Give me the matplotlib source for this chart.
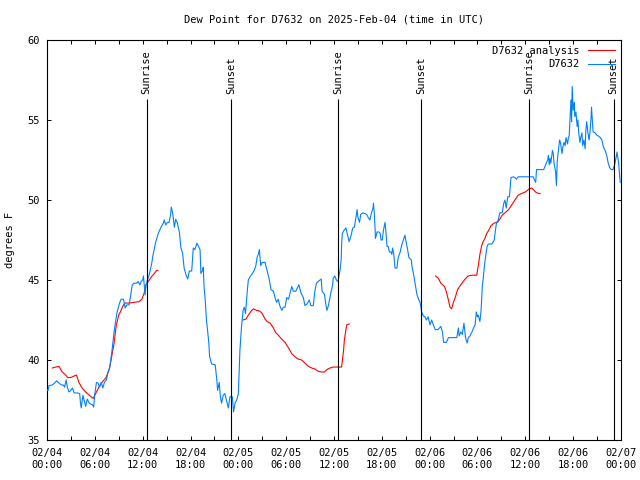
import numpy as np
import matplotlib
matplotlib.use("Agg")
import matplotlib.pyplot as plt
from matplotlib.ticker import MultipleLocator

plt.rcParams['font.family'] = ['DejaVu Sans Mono']
FONT_SIZE = 7.5

TITLE = "Dew Point for D7632 on 2025-Feb-04 (time in UTC)"
Y_LABEL = "degrees F"

# hours since 02/04 00:00 UTC
tick_hours = [0, 6, 12, 18, 24, 30, 36, 42, 48, 54, 60, 66, 72]
tick_labels = ["02/04\n00:00", "02/04\n06:00", "02/04\n12:00", "02/04\n18:00",
               "02/05\n00:00", "02/05\n06:00", "02/05\n12:00", "02/05\n18:00",
               "02/06\n00:00", "02/06\n06:00", "02/06\n12:00", "02/06\n18:00",
               "02/07\n00:00"]

sunrise_hours = [12.5, 36.5, 60.5]
sunset_hours = [23.05, 46.95, 71.08]

obs_hours = [
    0.0, 0.13, 0.25, 0.67, 0.96, 1.2, 1.5, 1.8, 2.05, 2.2, 2.4, 2.55, 2.76, 2.97,
    3.2, 3.4, 3.8, 4.1, 4.2, 4.3, 4.5, 4.65, 4.85, 5.05, 5.3, 5.5, 5.7, 5.85,
    5.98, 6.2, 6.4, 6.6, 6.8, 7.0, 7.2, 7.45, 7.65, 7.85, 8.0, 8.2, 8.4, 8.6,
    8.8, 9.1, 9.3, 9.6, 9.8, 10.0, 10.3, 10.5, 10.7, 10.9, 11.25, 11.45, 11.65,
    11.8, 12.0, 12.1, 12.3, 12.4, 12.6, 12.8, 13.1, 13.3, 13.6, 13.95, 14.3,
    14.6, 14.7, 14.9, 15.1, 15.3, 15.5, 15.6, 15.8, 15.97, 16.15, 16.35, 16.6,
    16.8, 17.0, 17.2, 17.45, 17.65, 17.85, 18.15, 18.35, 18.55, 18.8, 19.0,
    19.2, 19.3, 19.5, 19.6, 19.7, 19.85, 20.0, 20.1, 20.3, 20.4, 20.65, 21.1,
    21.3, 21.4, 21.6, 21.75, 21.9, 22.1, 22.3, 22.5, 22.75, 22.95, 23.25, 23.4,
    23.58, 23.8, 24.0, 24.09, 24.2, 24.4, 24.6, 24.75, 24.9, 25.05, 25.25,
    25.46, 25.75, 26.0, 26.2, 26.35, 26.5, 26.64, 26.8, 27.0, 27.35, 27.6,
    27.85, 28.1, 28.4, 28.6, 28.8, 29.0, 29.2, 29.45, 29.65, 29.86, 30.07,
    30.3, 30.5, 30.7, 30.9, 31.2, 31.6, 31.85, 32.15, 32.36, 32.6, 32.9, 33.1,
    33.4, 33.6, 33.8, 34.0, 34.4, 34.5, 34.8, 35.0, 35.1, 35.3, 35.6, 35.8,
    35.9, 36.1, 36.3, 36.5, 36.75, 36.9, 36.96, 37.05, 37.25, 37.5, 37.7, 37.9,
    38.1, 38.35, 38.55, 38.7, 38.9, 39.0, 39.2, 39.35, 39.65, 40.1, 40.3, 40.5,
    40.7, 40.9, 40.95, 41.05, 41.15, 41.2, 41.4, 41.65, 41.8, 41.9, 42.05,
    42.2, 42.4, 42.5, 42.65, 42.8, 42.95, 43.15, 43.25, 43.35, 43.5, 43.65,
    43.9, 44.05, 44.3, 44.5, 44.7, 44.9, 45.0, 45.2, 45.4, 45.7, 45.8, 46.0,
    46.2, 46.4, 46.6, 46.8, 47.0, 47.2, 47.4, 47.6, 47.8, 48.05, 48.25, 48.45,
    48.7, 49.05, 49.4, 49.6, 49.75, 50.1, 50.35, 50.8, 51.4, 51.6, 51.7, 51.9,
    52.1, 52.3, 52.5, 52.7, 52.85, 53.05, 53.3, 53.5, 53.7, 53.85, 54.0, 54.1,
    54.3, 54.45, 54.6, 54.7, 54.85, 55.0, 55.2, 55.35, 55.8, 56.1, 56.3, 56.4,
    56.6, 56.8, 57.1, 57.3, 57.45, 57.6, 57.8, 58.0, 58.2, 58.5, 58.7, 58.9,
    59.1, 61.0, 61.1, 61.3, 61.4, 61.8, 62.3, 62.8, 62.9, 63.0, 63.1, 63.2,
    63.4, 63.5, 63.6, 63.8, 63.9, 64.0, 64.1, 64.3, 64.4, 64.6, 64.7, 64.85,
    65.0, 65.1, 65.3, 65.4, 65.5, 65.65, 65.72, 65.8, 65.88, 66.0, 66.15,
    66.2, 66.35, 66.5, 66.6, 66.7, 66.85, 66.95, 67.1, 67.2, 67.35, 67.5,
    67.6, 67.7, 67.85, 68.0, 68.1, 68.25, 68.3, 68.4, 68.5, 68.75, 68.95,
    69.15, 69.4, 69.6, 69.8, 70.0, 70.2, 70.4, 70.6, 70.8, 71.0, 71.2, 71.4,
    71.5, 71.7, 71.9,
]
obs_dewpoint = [
    38.1, 38.1, 38.4, 38.44, 38.56, 38.7, 38.56, 38.44, 38.44, 38.3, 38.75, 38.3, 38.0, 38.1,
    38.25, 37.94, 37.94, 37.9, 37.3, 37.0, 37.8, 37.5, 37.1, 37.56, 37.3, 37.25, 37.2, 37.06,
    37.8, 38.6, 38.56, 38.3, 38.6, 38.25, 38.6, 38.75, 39.25, 39.5, 40.0, 40.8, 41.7, 42.4,
    43.0, 43.56, 43.8, 43.8, 43.25, 43.44, 43.44, 44.06, 44.7, 44.8, 44.8, 44.9, 44.7,
    44.9, 45.0, 45.25, 44.06, 44.6, 45.0, 45.3, 45.94, 46.56, 47.3, 47.9, 48.3,
    48.56, 48.75, 48.44, 48.6, 48.6, 49.06, 49.56, 49.06, 48.3, 48.8, 48.56, 48.0,
    47.0, 46.7, 45.75, 45.3, 45.06, 45.56, 45.56, 47.0, 46.9, 47.3, 47.1,
    46.9, 45.4, 45.6, 45.8, 44.56, 43.75, 42.5, 42.06, 41.06, 40.2, 39.75, 39.7,
    38.75, 38.1, 38.6, 37.7, 37.3, 37.8, 37.9, 37.5, 37.0, 37.7, 37.7, 36.75,
    37.3, 37.5, 37.9, 39.2, 40.6, 42.1, 43.1, 43.3, 42.9, 43.9, 45.0,
    45.2, 45.4, 45.6, 45.9, 46.4, 46.6, 46.9, 45.9, 46.1, 46.1, 45.6,
    45.1, 44.4, 44.3, 43.9, 43.6, 43.8, 43.4, 43.1, 43.3, 43.3, 43.9,
    43.8, 44.2, 44.6, 44.3, 44.3, 44.7, 44.2, 43.9, 43.4, 43.5, 43.75, 43.4,
    43.4, 44.3, 44.8, 44.9, 45.06, 44.3, 44.1, 43.4, 43.1, 43.4, 44.2, 44.6,
    45.1, 45.25, 45.0, 44.9, 45.6, 46.25, 47.3, 47.9, 48.1, 48.25, 47.8, 47.4,
    47.7, 48.25, 48.3, 48.75, 49.4, 48.9, 48.6, 49.1, 49.2, 49.1, 48.9, 48.75,
    49.2, 49.5, 49.8, 49.2, 48.25, 47.6, 48.0, 48.0, 47.9, 47.5, 47.5,
    48.1, 48.6, 48.1, 47.1, 47.1, 46.75, 46.75, 46.6, 47.0, 46.6, 45.75,
    45.75, 46.4, 46.75, 47.2, 47.5, 47.8, 47.5, 47.0, 46.4, 46.25, 45.8, 45.3,
    44.7, 44.1, 43.8, 43.6, 43.0, 42.75, 42.7, 42.5, 42.7, 42.2, 42.5, 42.2,
    41.9, 41.9, 42.1, 41.75, 41.1, 41.1, 41.4, 41.4, 41.4, 42.0, 41.5, 41.75,
    41.6, 42.3, 41.4, 41.06, 41.4, 41.5, 41.75, 42.0, 42.2, 43.0, 42.7, 42.8,
    42.4, 43.1, 44.6, 45.0, 45.8, 46.4, 47.1, 47.25, 47.25, 47.5, 48.3, 48.6,
    48.75, 49.2, 49.2, 49.8, 50.0, 49.5, 50.2, 50.2, 51.4, 51.45, 51.4, 51.3,
    51.45, 51.45, 51.3, 51.1, 51.9, 51.9, 51.9, 52.5, 52.8, 52.2, 52.6, 52.3,
    53.1, 52.9, 52.3, 51.75, 50.9, 52.4, 52.9, 53.75, 53.6, 52.9, 53.3, 53.6,
    53.4, 53.9, 53.5, 53.9, 54.0, 55.6, 56.25, 54.9, 57.1, 55.6, 56.1,
    55.2, 55.5, 54.6, 55.0, 54.2, 53.6, 53.9, 54.2, 53.4, 53.75, 53.2,
    54.4, 54.9, 54.2, 53.75, 54.2, 55.2, 55.8, 55.0, 54.25, 54.2, 54.06,
    54.0, 53.9, 53.75, 53.3, 53.1, 52.8, 52.3, 52.0, 51.9, 51.9, 52.2, 52.7,
    53.0, 52.3, 51.1,
]

# analysis series, NaN marks the gaps between runs
analysis_hours = [
    0.67, 1.1, 1.5, 1.9, 2.35, 2.6, 2.97, 3.4, 3.7, 4.0, 4.4, 4.85, 5.3, 5.8,
    6.1, 6.5, 6.9, 7.4, 7.8, 8.0, 8.4, 8.7, 9.0, 9.2, 9.45, 9.75, 10.3, 10.9,
    11.55, 11.9, 12.2, 12.4, 12.7, 13.1, 13.45, 13.75, 13.9,
    np.nan,
    24.6, 24.96, 25.25, 25.6, 25.9, 26.3, 26.7, 27.0, 27.35, 27.6, 28.0, 28.4,
    28.7, 29.0, 29.45, 29.86, 30.3, 30.7, 31.1, 31.5, 31.95, 32.36, 32.8, 33.2,
    33.6, 34.0, 34.45, 34.8, 35.1, 35.5, 35.9, 36.4, 36.95, 37.2, 37.3, 37.5,
    37.6, 37.9,
    np.nan,
    48.75, 49.1, 49.4, 49.85, 50.1, 50.35, 50.55, 50.75, 50.95, 51.2, 51.5,
    51.9, 52.35, 52.8, 53.3, 53.9, 54.1, 54.3, 54.5, 54.7, 54.9, 55.15, 55.35,
    55.7, 56.1, 56.5, 56.8, 57.1, 57.45, 57.9, 58.3, 58.7, 59.1, 59.5, 60.0,
    60.5, 60.8, 61.1, 61.4, 61.85,
]
analysis_dewpoint = [
    39.5, 39.56, 39.6, 39.25, 39.06, 38.9, 38.9, 39.0, 39.06, 38.6, 38.25, 38.0, 37.8, 37.6,
    37.9, 38.3, 38.6, 38.9, 39.4, 39.9, 41.0, 42.2, 42.8, 43.0, 43.3, 43.56, 43.56, 43.6,
    43.65, 43.8, 44.2, 44.7, 44.9, 45.2, 45.4, 45.6, 45.6,
    np.nan,
    42.5, 42.56, 42.8, 43.06, 43.2, 43.1, 43.06, 42.9, 42.56, 42.4, 42.3, 42.0,
    41.7, 41.56, 41.3, 41.1, 40.75, 40.4, 40.2, 40.06, 40.0, 39.8, 39.6, 39.5,
    39.44, 39.3, 39.25, 39.25, 39.4, 39.5, 39.56, 39.56, 39.56, 40.6, 41.25, 41.9,
    42.2, 42.25,
    np.nan,
    45.25, 45.1, 44.8, 44.6, 44.25, 43.75, 43.3, 43.2, 43.56, 43.9, 44.4,
    44.7, 45.0, 45.25, 45.3, 45.3, 45.9, 46.6, 47.1, 47.4, 47.56, 47.9, 48.06,
    48.4, 48.56, 48.6, 48.8, 49.06, 49.2, 49.4, 49.7, 50.0, 50.3, 50.4, 50.5,
    50.7, 50.75, 50.6, 50.45, 50.4,
]

fig = plt.figure(figsize=(6.4, 4.8), dpi=100)
ax = fig.add_axes([47 / 640, 40 / 480, 574 / 640, 400 / 480])

ax.plot(analysis_hours, analysis_dewpoint, color="#ff0000", lw=0.8,
        label="D7632 analysis", zorder=2)
ax.plot(obs_hours, obs_dewpoint, color="#0080ff", lw=0.8,
        label="D7632", zorder=3)

# sunrise / sunset markers
for hours, name in ((sunrise_hours, "Sunrise"), (sunset_hours, "Sunset")):
    ax.vlines(hours, 35, 56.3, color="black", lw=0.8, zorder=4)
    for h in hours:
        ax.text(h, 56.6, name, rotation=90, ha="center", va="bottom",
                fontsize=FONT_SIZE, zorder=4)

ax.set_xlim(0, 72)
ax.set_ylim(35, 60)
ax.set_xticks(tick_hours)
ax.set_xticklabels(tick_labels, linespacing=1.25)
ax.xaxis.set_minor_locator(MultipleLocator(3))
ax.set_yticks([35, 40, 45, 50, 55, 60])
ax.tick_params(which="both", direction="in", top=True, right=True,
               length=3, width=0.7, labelsize=FONT_SIZE)
ax.tick_params(axis="x", pad=6)
ax.tick_params(axis="y", pad=5)
for spine in ax.spines.values():
    spine.set_linewidth(0.8)

ax.legend(loc="upper right", frameon=False, markerfirst=False,
          handlelength=2.6, handletextpad=0.8, borderaxespad=0.15,
          labelspacing=0.35, fontsize=FONT_SIZE)

fig.text(334 / 640, 1 - 19 / 480, TITLE, ha="center", va="center",
         fontsize=FONT_SIZE)
fig.text(10 / 640, 240 / 480, Y_LABEL, ha="center", va="center",
         rotation=90, fontsize=FONT_SIZE)

fig.savefig("out.png", dpi=100)
